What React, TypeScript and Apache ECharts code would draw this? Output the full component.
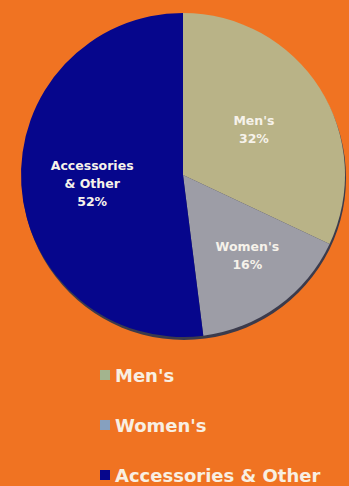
import React, { useEffect, useRef } from "react";
import * as echarts from "echarts";

const categories = ["Men's", "Women's", "Accessories & Other"];
const labelNames = ["Men's", "Women's", "Accessories\n& Other"];
const values = [32, 16, 52];
const sliceColors = ["#b9b387", "#9d9da6", "#06068c"];
const legendColors = ["#a3b48e", "#86a0bf", "#06068c"];
const labelShift = [
  [0, 0],
  [15, 13],
  [-7, 3],
];

export default function App() {
  const ref = useRef<HTMLDivElement>(null);
  useEffect(() => {
    document.body.style.margin = "0";
    const chart = echarts.init(ref.current!, null, { renderer: "svg" });
    chart.setOption({
      animation: false,
      backgroundColor: "#f07322",
      legend: {
        orient: "vertical",
        left: 100,
        top: 366,
        height: 140,
        padding: 0,
        itemWidth: 10,
        itemHeight: 10,
        itemGap: 32,
        icon: "rect",
        selectedMode: false,
        textStyle: {
          color: "#f8efe2",
          fontFamily: "DejaVu Sans",
          fontWeight: "bold",
          fontSize: 18,
          lineHeight: 16,
        },
        data: categories.map((c, i) => ({
          name: c,
          itemStyle: { color: legendColors[i] },
        })),
      },
      series: [
        {
          type: "pie",
          silent: true,
          center: [184, 178],
          radius: 162,
          z: 1,
          label: { show: false },
          labelLine: { show: false },
          itemStyle: { color: "#3b3b4c" },
          data: [{ value: 1, name: "_shadow" }],
        },
        {
          type: "pie",
          z: 2,
          center: [183, 175],
          radius: 162,
          startAngle: 90,
          clockwise: true,
          silent: true,
          data: categories.map((c, i) => ({
            name: c,
            value: values[i],
            itemStyle: { color: sliceColors[i] },
          })),
          label: {
            show: true,
            position: "inside",
            color: "#f6f2ea",
            fontFamily: "DejaVu Sans",
            fontWeight: "bold",
            fontSize: 12.5,
            lineHeight: 18,
            formatter: (p: any) => labelNames[p.dataIndex] + "\n" + p.value + "%",
          },
          labelLayout: (p: any) => ({
            dx: labelShift[p.dataIndex][0],
            dy: labelShift[p.dataIndex][1],
          }),
          labelLine: { show: false },
        },
      ],
    });
    return () => chart.dispose();
  }, []);
  return <div ref={ref} style={{ width: 349, height: 486 }} />;
}
